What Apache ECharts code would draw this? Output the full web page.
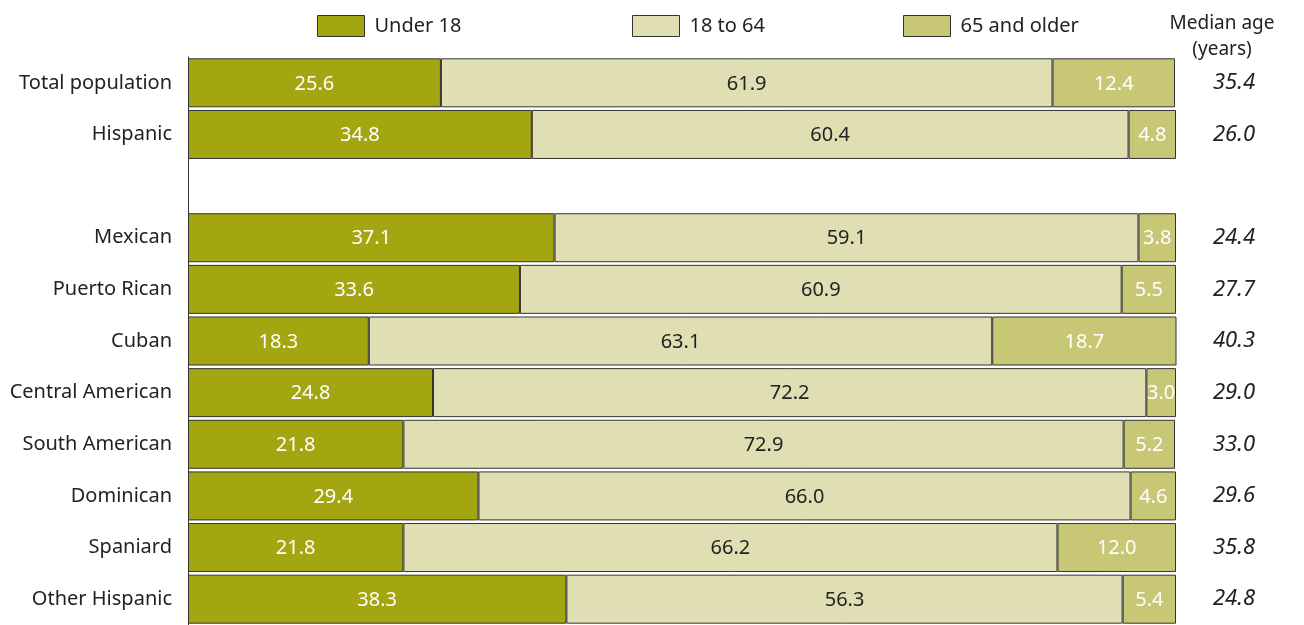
<!DOCTYPE html>
<html>
<head>
<meta charset="utf-8">
<title>Age distribution by Hispanic origin</title>
<script src="https://cdn.jsdelivr.net/npm/echarts@6/dist/echarts.min.js"></script>
<style>
  html, body { margin: 0; padding: 0; background: #fff; }
  #chart { width: 1304px; height: 625px; }
</style>
</head>
<body>
<div id="chart"></div>
<script>
// rows (empty string = spacer row between Hispanic and the subgroups)
const categories = ['Total population', 'Hispanic', '', 'Mexican', 'Puerto Rican', 'Cuban',
  'Central American', 'South American', 'Dominican', 'Spaniard', 'Other Hispanic']
const under18 = [25.6, 34.8, null, 37.1, 33.6, 18.3, 24.8, 21.8, 29.4, 21.8, 38.3]
const age18to64 = [61.9, 60.4, null, 59.1, 60.9, 63.1, 72.2, 72.9, 66.0, 66.2, 56.3]
const age65plus = [12.4, 4.8, null, 3.8, 5.5, 18.7, 3.0, 5.2, 4.6, 12.0, 5.4]
const medianAge = ['35.4', '26.0', '', '24.4', '27.7', '40.3', '29.0', '33.0', '29.6', '35.8', '24.8']

const seriesNames = ['Under 18', '18 to 64', '65 and older']
const colors = ['#a3a511', '#dfdfb3', '#c8c775']
const labelColors = ['#fff', '#222', '#fff']
const font = 'Noto Sans'

const myChart = echarts.init(document.getElementById('chart'))

// one legend per item, the gaps in the original are uneven
const legendLeft = [317, 632, 903]
const legends = seriesNames.map(function (name, i) {
  return {
    data: [name],
    left: legendLeft[i],
    top: 15,
    padding: 0,
    itemWidth: 47,
    itemHeight: 21,
    itemGap: 10,
    icon: 'rect',
    selectedMode: false,
    itemStyle: { borderColor: '#333', borderWidth: 1 },
    textStyle: { fontFamily: font, fontSize: 20, color: '#222', padding: [2, 0, 0, 5] }
  }
})

const values = [under18, age18to64, age65plus]
const series = seriesNames.map(function (name, i) {
  return {
    name: name,
    type: 'bar',
    stack: 'total',
    barWidth: 49,
    data: values[i],
    itemStyle: { color: colors[i], borderColor: '#333', borderWidth: 1 },
    label: {
      show: true,
      position: 'inside',
      offset: [0, 1],
      fontFamily: font,
      fontSize: 20,
      color: labelColors[i],
      formatter: function (p) { return p.value == null ? '' : p.value.toFixed(1) }
    },
    emphasis: { disabled: true }
  }
})

const option = {
  animation: false,
  color: colors,
  legend: legends,
  grid: { left: 188, right: 128, top: 57, height: 572 },
  xAxis: {
    type: 'value',
    min: 0,
    max: 100,
    show: false
  },
  yAxis: [
    {
      type: 'category',
      data: categories,
      inverse: true,
      axisLine: { show: true, lineStyle: { color: '#333', width: 1 } },
      axisTick: { show: false },
      axisLabel: { margin: 16, fontFamily: font, fontSize: 20, color: '#222' }
    },
    {
      type: 'category',
      data: medianAge,
      inverse: true,
      position: 'right',
      axisLine: { show: false },
      axisTick: { show: false },
      axisLabel: { margin: 58, align: 'center', fontFamily: font, fontSize: 22, fontStyle: 'italic', color: '#222' }
    }
  ],
  graphic: [
    {
      type: 'text',
      x: 1222,
      y: 11,
      style: {
        text: 'Median age\n(years)',
        fontFamily: font,
        fontSize: 19,
        lineHeight: 26,
        fill: '#222',
        align: 'center'
      }
    }
  ],
  series: series
}
myChart.setOption(option)
</script>
</body>
</html>
